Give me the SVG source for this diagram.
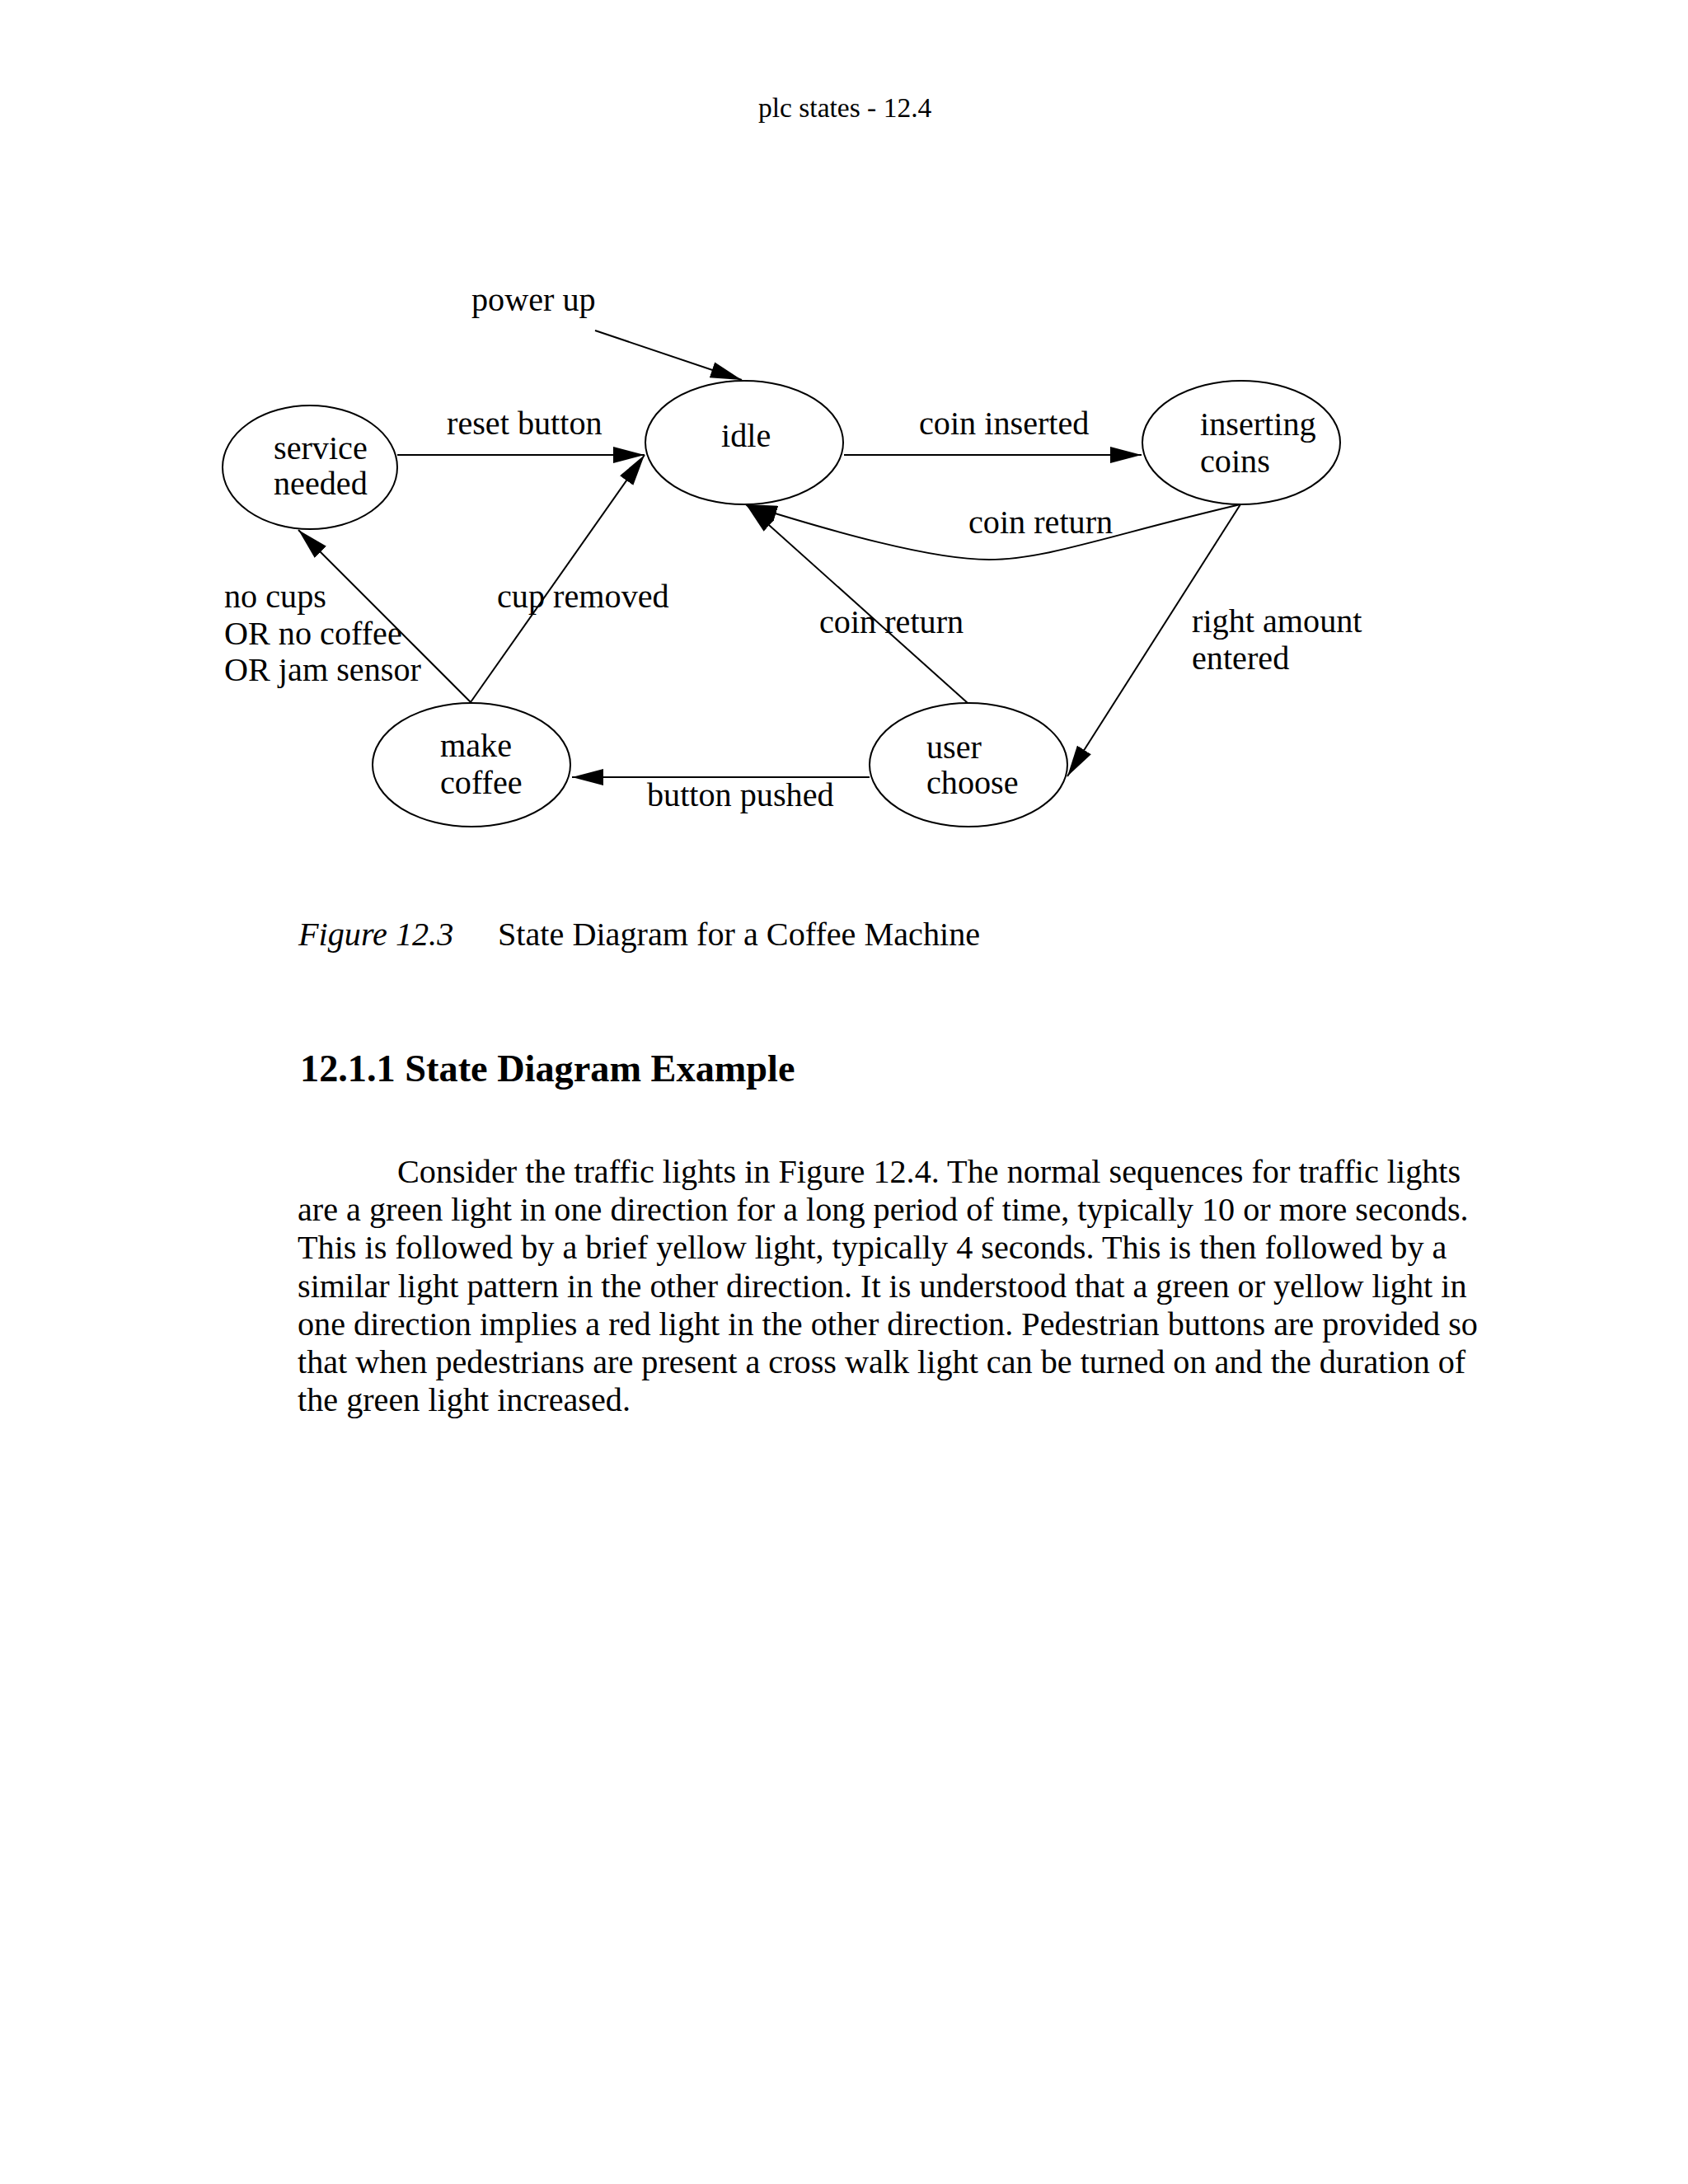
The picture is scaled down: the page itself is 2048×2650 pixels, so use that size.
<svg xmlns="http://www.w3.org/2000/svg" width="2048" height="2650" viewBox="0 0 2048 2650">
<style>
text{font-family:"Liberation Serif","Times New Roman",serif;fill:#000}
.lbl{font-size:40.2px}
.node ellipse{fill:none;stroke:#000;stroke-width:2}
.edge{fill:none;stroke:#000;stroke-width:2}
.hdr{font-size:33.5px}
.body{font-size:40.2px}
.h{font-size:46.3px;font-weight:bold}
</style>
<defs>
<marker id="arr" viewBox="0 0 38 20" refX="38" refY="10" markerWidth="38" markerHeight="20" markerUnits="userSpaceOnUse" orient="auto">
<path d="M0,0 L38,10 L0,20 z" fill="#000"/>
</marker>
</defs>
<rect width="2048" height="2650" fill="#fff"/>
<text class="hdr" x="920" y="142">plc states - 12.4</text>

<g id="connectors">
<path class="edge" d="M722,401 L900,461" marker-end="url(#arr)"/>
<path class="edge" d="M482,552 L782,552" marker-end="url(#arr)"/>
<path class="edge" d="M1024,552 L1385,552" marker-end="url(#arr)"/>
<path class="edge" d="M1505,612 C1350,648 1270,679 1200,679 C1130,679 1010,645 905,612" marker-end="url(#arr)"/>
<path class="edge" d="M1174,853 L905,612" marker-end="url(#arr)"/>
<path class="edge" d="M1505,612 L1295,942" marker-end="url(#arr)"/>
<path class="edge" d="M1055,943 L694,943" marker-end="url(#arr)"/>
<path class="edge" d="M571,852 L362,643" marker-end="url(#arr)"/>
<path class="edge" d="M571,852 L782,552" marker-end="url(#arr)"/>
<text class="lbl" x="572" y="377">power up</text>
<text class="lbl" x="542" y="527">reset button</text>
<text class="lbl" x="1115" y="527">coin inserted</text>
<text class="lbl" x="1175" y="647">coin return</text>
<text class="lbl" x="994" y="768">coin return</text>
<text class="lbl" x="1446" y="767">right amount</text>
<text class="lbl" x="1446" y="812">entered</text>
<text class="lbl" x="272" y="737">no cups</text>
<text class="lbl" x="272" y="782">OR no coffee</text>
<text class="lbl" x="272" y="826">OR jam sensor</text>
<text class="lbl" x="603" y="737">cup removed</text>
<text class="lbl" x="785" y="978">button pushed</text>
</g>

<g id="service-needed" class="node">
<ellipse cx="376" cy="567" rx="106" ry="75"/>
<text class="lbl" x="332" y="557">service</text>
<text class="lbl" x="332" y="600">needed</text>
</g>
<g id="idle" class="node">
<ellipse cx="903" cy="537" rx="120" ry="75"/>
<text class="lbl" x="875" y="542">idle</text>
</g>
<g id="inserting-coins" class="node">
<ellipse cx="1506" cy="537" rx="120" ry="75"/>
<text class="lbl" x="1456" y="528">inserting</text>
<text class="lbl" x="1456" y="573">coins</text>
</g>
<g id="make-coffee" class="node">
<ellipse cx="572" cy="928" rx="120" ry="75"/>
<text class="lbl" x="534" y="918">make</text>
<text class="lbl" x="534" y="963">coffee</text>
</g>
<g id="user-choose" class="node">
<ellipse cx="1175" cy="928" rx="120" ry="75"/>
<text class="lbl" x="1124" y="920">user</text>
<text class="lbl" x="1124" y="963">choose</text>
</g>

<text class="lbl" x="362" y="1147" font-style="italic">Figure 12.3</text>
<text class="lbl" x="604" y="1147">State Diagram for a Coffee Machine</text>
<text class="h" x="364" y="1312">12.1.1 State Diagram Example</text>
<text class="body" x="482" y="1435">Consider the traffic lights in Figure 12.4. The normal sequences for traffic lights</text>
<text class="body" x="361" y="1481">are a green light in one direction for a long period of time, typically 10 or more seconds.</text>
<text class="body" x="361" y="1527">This is followed by a brief yellow light, typically 4 seconds. This is then followed by a</text>
<text class="body" x="361" y="1574">similar light pattern in the other direction. It is understood that a green or yellow light in</text>
<text class="body" x="361" y="1620">one direction implies a red light in the other direction. Pedestrian buttons are provided so</text>
<text class="body" x="361" y="1666">that when pedestrians are present a cross walk light can be turned on and the duration of</text>
<text class="body" x="361" y="1712">the green light increased.</text>
</svg>
